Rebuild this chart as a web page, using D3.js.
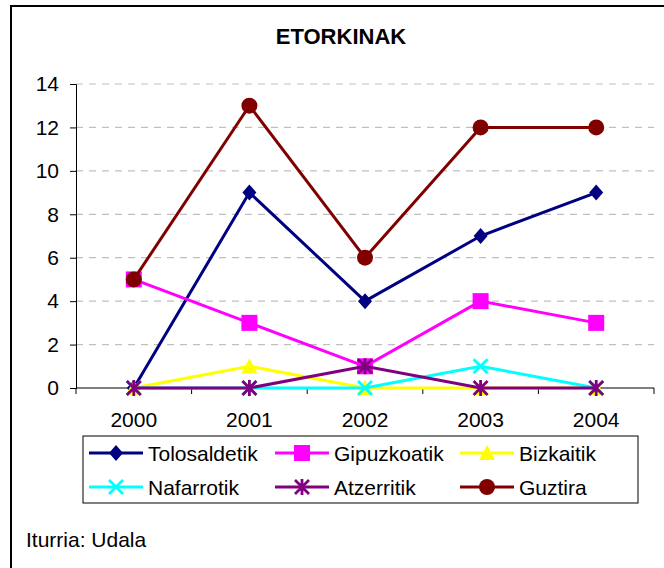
<!DOCTYPE html>
<html>
<head>
<meta charset="utf-8">
<script src="https://cdn.jsdelivr.net/npm/d3@7"></script>
<style>
  body { margin: 0; background: #fff; }
  text { font-family: "Liberation Sans", Arial, sans-serif; fill: #000; }
</style>
</head>
<body>
<div id="chart"></div>
<script>
// data
const years = ["2000", "2001", "2002", "2003", "2004"];
const yTicks = [0, 2, 4, 6, 8, 10, 12, 14];
const tolosaldetik = [0, 9, 4, 7, 9];
const gipuzkoatik = [5, 3, 1, 4, 3];
const bizkaitik = [0, 1, 0, 0, 0];
const nafarrotik = [0, 0, 0, 1, 0];
const atzerritik = [0, 0, 1, 0, 0];
const guztira = [5, 13, 6, 12, 12];

const series = [
  {name: "Tolosaldetik", values: tolosaldetik, color: "#000080", marker: "diamond"},
  {name: "Gipuzkoatik", values: gipuzkoatik, color: "#FF00FF", marker: "square"},
  {name: "Bizkaitik", values: bizkaitik, color: "#FFFF00", marker: "triangle"},
  {name: "Nafarrotik", values: nafarrotik, color: "#00FFFF", marker: "x"},
  {name: "Atzerritik", values: atzerritik, color: "#800080", marker: "star"},
  {name: "Guztira", values: guztira, color: "#800000", marker: "circle"}
];

const W = 664, H = 568;
const svg = d3.select("#chart").append("svg")
  .attr("width", W).attr("height", H);

// outer frame (right and bottom edges fall outside the picture)
svg.append("rect")
  .attr("x", 11).attr("y", 6)
  .attr("width", 700).attr("height", 600)
  .attr("fill", "none").attr("stroke", "#000").attr("stroke-width", 2);

svg.append("text")
  .attr("x", 341).attr("y", 44)
  .attr("text-anchor", "middle")
  .style("font-size", "22px").style("font-weight", "bold")
  .text("ETORKINAK");

const pLeft = 76, pRight = 654, pTop = 84, pBottom = 388;

const x = d3.scaleBand().domain(years).range([pLeft, pRight]);
const y = d3.scaleLinear().domain([0, 14]).range([pBottom, pTop]);
const cx = d => x(d) + x.bandwidth() / 2;

// dashed grid
svg.append("g").selectAll("line")
  .data(yTicks.filter(d => d > 0))
  .join("line")
  .attr("x1", pLeft).attr("x2", pRight)
  .attr("y1", d => y(d)).attr("y2", d => y(d))
  .attr("stroke", "#c0c0c0").attr("stroke-width", 1.2)
  .attr("stroke-dasharray", "7,6");

// y axis
const yAxis = svg.append("g")
  .attr("transform", `translate(${pLeft},0)`)
  .call(d3.axisLeft(y).tickValues(yTicks).tickSize(6).tickPadding(11));
yAxis.select(".domain").attr("stroke", "#000");
yAxis.selectAll("line").attr("stroke", "#000");
yAxis.selectAll("text").style("font-size", "21px")
  .style("font-family", '"Liberation Sans", Arial, sans-serif');

// x axis: ticks between categories
const xg = svg.append("g");
xg.append("line")
  .attr("x1", pLeft).attr("x2", pRight)
  .attr("y1", pBottom).attr("y2", pBottom)
  .attr("stroke", "#000");
xg.selectAll("line.tick")
  .data(years.map(d => x(d)).concat([pRight]))
  .join("line")
  .attr("class", "tick")
  .attr("x1", d => d).attr("x2", d => d)
  .attr("y1", pBottom).attr("y2", pBottom + 6)
  .attr("stroke", "#000");
xg.selectAll("text")
  .data(years)
  .join("text")
  .attr("x", d => cx(d)).attr("y", 427)
  .attr("text-anchor", "middle")
  .style("font-size", "21px")
  .text(d => d);

function drawMarker(g, type, color) {
  if (type === "diamond") {
    g.append("path").attr("d", "M0,-8L7,0L0,8L-7,0Z").attr("fill", color);
  } else if (type === "square") {
    g.append("rect").attr("x", -8).attr("y", -8).attr("width", 16).attr("height", 16).attr("fill", color);
  } else if (type === "triangle") {
    g.append("path").attr("d", "M0,-8L8,7L-8,7Z").attr("fill", color);
  } else if (type === "x") {
    g.append("path").attr("d", "M-7,-7L7,7M-7,7L7,-7")
      .attr("stroke", color).attr("stroke-width", 2.8).attr("fill", "none");
  } else if (type === "star") {
    g.append("path").attr("d", "M-7,-7L7,7M-7,7L7,-7M0,-8L0,8")
      .attr("stroke", color).attr("stroke-width", 2.8).attr("fill", "none");
  } else if (type === "circle") {
    g.append("circle").attr("r", 8).attr("fill", color);
  }
}

const line = d3.line()
  .x((d, i) => cx(years[i]))
  .y(d => y(d));

series.forEach(s => {
  const g = svg.append("g");
  g.append("path")
    .attr("d", line(s.values))
    .attr("fill", "none")
    .attr("stroke", s.color)
    .attr("stroke-width", 3);
  s.values.forEach((v, i) => {
    const m = g.append("g").attr("transform", `translate(${cx(years[i])},${y(v)})`);
    drawMarker(m, s.marker, s.color);
  });
});

// legend
const lg = svg.append("g");
lg.append("rect")
  .attr("x", 83).attr("y", 436)
  .attr("width", 555).attr("height", 67)
  .attr("fill", "#fff").attr("stroke", "#000").attr("stroke-width", 1);

const colX = [89, 275, 460];
const rowY = [453, 487];
series.forEach((s, i) => {
  const lx = colX[i % 3], ly = rowY[Math.floor(i / 3)];
  const item = lg.append("g").attr("transform", `translate(${lx},${ly})`);
  item.append("line")
    .attr("x1", 0).attr("x2", 54)
    .attr("stroke", s.color).attr("stroke-width", 3);
  drawMarker(item.append("g").attr("transform", "translate(27,0)"), s.marker, s.color);
  item.append("text")
    .attr("x", 59).attr("y", 0).attr("dy", "0.36em")
    .style("font-size", "21px")
    .text(s.name);
});

svg.append("text")
  .attr("x", 26).attr("y", 547)
  .style("font-size", "21px")
  .text("Iturria: Udala");
</script>
</body>
</html>
